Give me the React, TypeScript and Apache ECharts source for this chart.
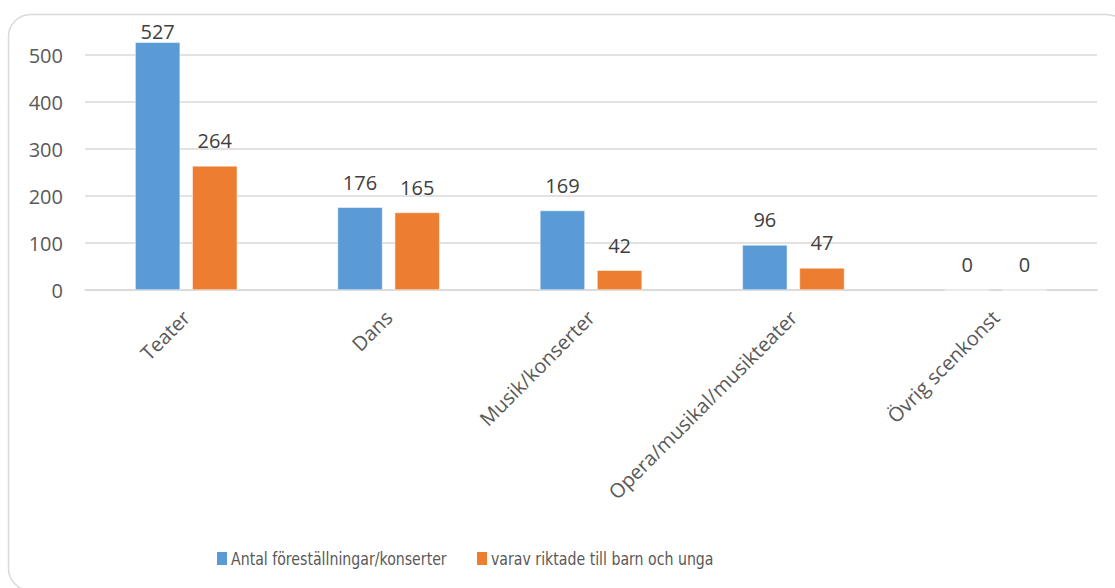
import React, { useEffect, useRef } from "react";
import * as echarts from "echarts";

const categories = ["Teater", "Dans", "Musik/konserter", "Opera/musikal/musikteater", "Övrig scenkonst"];
const seriesNames = ["Antal föreställningar/konserter", "varav riktade till barn och unga"];
const totalValues = [527, 176, 169, 96, 0];
const childValues = [264, 165, 42, 47, 0];
const colors = ["#5B9BD5", "#ED7D31"];

const legendX = [217, 477];

export default function App() {
  const ref = useRef<HTMLDivElement>(null);
  useEffect(() => {
    if (!ref.current) return;
    const chart = echarts.init(ref.current, null, { renderer: "svg" });
    const labelStyle = {
      show: true,
      position: "top",
      distance: 15,
      color: "#404040",
      fontSize: 20,
      fontFamily: "Open Sans",
    };
    const legendGraphics: any[] = [];
    seriesNames.forEach((name, i) => {
      legendGraphics.push({
        type: "rect",
        shape: { x: legendX[i], y: 552, width: 10, height: 13 },
        style: { fill: colors[i] },
        silent: true,
      });
      legendGraphics.push({
        type: "text",
        x: legendX[i] + 14,
        y: 558.5,
        scaleX: 0.85,
        style: {
          text: name,
          fill: "#595959",
          fontSize: 18.5,
          fontFamily: "'DejaVu Sans Condensed', 'DejaVu Sans', sans-serif",
          verticalAlign: "middle",
          align: "left",
        },
        silent: true,
      });
    });
    chart.setOption({
      animation: false,
      backgroundColor: "#ffffff",
      graphic: [
        {
          type: "rect",
          shape: { x: 8.5, y: 14.5, width: 1120, height: 576, r: 22 },
          style: { fill: "none", stroke: "#d9d9d9", lineWidth: 1.5 },
          silent: true,
          z: -1,
        },
        ...legendGraphics,
      ],
      grid: { left: 85, right: 18, top: 55, bottom: 298, containLabel: false },
      xAxis: {
        type: "category",
        data: categories,
        axisLine: { show: true, lineStyle: { color: "#d9d9d9", width: 1.5 } },
        axisTick: { show: false },
        axisLabel: {
          rotate: 45,
          color: "#595959",
          fontSize: 20,
          fontFamily: "Open Sans",
          margin: 24,
          interval: 0,
        },
      },
      yAxis: {
        type: "value",
        min: 0,
        max: 500,
        interval: 100,
        axisLine: { show: false },
        axisTick: { show: false },
        splitLine: { lineStyle: { color: "#d9d9d9", width: 1.5 } },
        axisLabel: { color: "#595959", fontSize: 20, fontFamily: "Open Sans", margin: 22 },
      },
      series: [
        {
          name: seriesNames[0],
          type: "bar",
          data: totalValues.map((v) =>
            v > 500 ? { value: v, label: { distance: 1 } } : v
          ),
          barWidth: 45,
          barGap: "27%",
          clip: false,
          itemStyle: { color: colors[0], borderColor: "#ffffff", borderWidth: 0.5 },
          label: labelStyle,
        },
        {
          name: seriesNames[1],
          type: "bar",
          data: childValues,
          barWidth: 45,
          barGap: "27%",
          clip: false,
          itemStyle: { color: colors[1], borderColor: "#ffffff", borderWidth: 0.5 },
          label: labelStyle,
        },
      ],
    });
    return () => chart.dispose();
  }, []);
  return (
    <div
      ref={ref}
      style={{ position: "fixed", left: 0, top: 0, width: 1115, height: 588 }}
    />
  );
}
